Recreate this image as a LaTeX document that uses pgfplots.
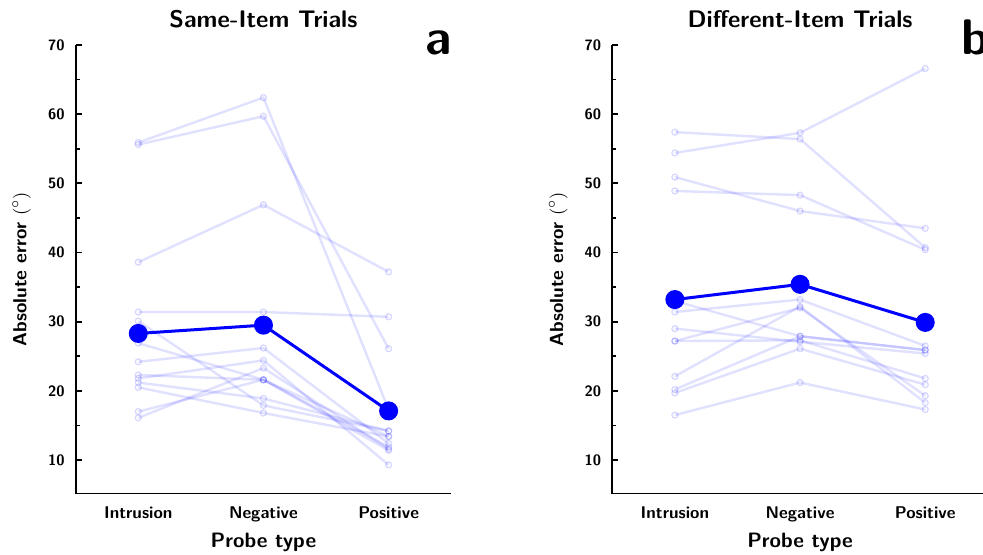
\documentclass[border=0pt]{standalone}
\usepackage{pgfplots}
\pgfplotsset{compat=1.18}

\pgfplotsset{
  panel/.style={
    scale only axis, width=187.75pt, height=224.25pt,
    xmin=-0.5, xmax=2.5, ymin=5.16, ymax=70,
    axis x line*=bottom, axis y line*=left,
    axis line style={line width=0.9pt, black},
    xtick={0,1,2}, xticklabels={Intrusion,Negative,Positive},
    ytick={10,20,...,70}, minor y tick num=1,
    tick align=inside,
    major tick length=3pt, minor tick length=2pt,
    tick style={black, line width=0.9pt},
    xtick style={draw=none},
    /pgf/number format/assume math mode=true,
    yticklabel style={font=\fontsize{7.5}{8}\selectfont\sffamily\bfseries, xshift=-2pt},
    xticklabel style={font=\fontsize{8.5}{10}\selectfont\sffamily\bfseries, yshift=-3pt},
    xlabel={Probe type},
    xlabel style={font=\fontsize{10.4}{12}\selectfont\sffamily\bfseries, at={(axis description cs:0.5,0)}, anchor=north, yshift=-16pt},
    ylabel={Absolute error $(^\circ)$},
    ylabel style={font=\fontsize{9.5}{11}\selectfont\sffamily\bfseries, at={(axis description cs:-0.144,0.5)}, anchor=center},
    title style={font=\fontsize{12}{14}\selectfont\sffamily\bfseries, at={(axis description cs:0.5,1)}, anchor=south, yshift=-1pt},
    clip=false,
  },
  subj/.style={blue, draw opacity=0.12, line width=1.2pt, mark=o, mark size=1.5pt,
    mark options={draw opacity=0.16, line width=0.6pt}},
  avg/.style={blue, line width=1.5pt, mark=*, mark size=4pt},
}

\begin{document}
\begin{tikzpicture}
% Same-item trials
\begin{axis}[panel, title={Same-Item Trials}]
\addplot[subj] coordinates {(0,55.9) (1,62.4) (2,17.3)};
\addplot[subj] coordinates {(0,55.6) (1,59.7) (2,26.1)};
\addplot[subj] coordinates {(0,38.6) (1,46.9) (2,37.2)};
\addplot[subj] coordinates {(0,31.4) (1,31.4) (2,30.7)};
\addplot[subj] coordinates {(0,30.1) (1,17.9) (2,14.2)};
\addplot[subj] coordinates {(0,26.9) (1,21.6) (2,13.4)};
\addplot[subj] coordinates {(0,24.2) (1,26.2) (2,12.4)};
\addplot[subj] coordinates {(0,22.3) (1,21.6) (2,11.9)};
\addplot[subj] coordinates {(0,21.8) (1,24.4) (2,9.3)};
\addplot[subj] coordinates {(0,21.2) (1,18.9) (2,14.2)};
\addplot[subj] coordinates {(0,20.5) (1,16.8) (2,13.4)};
\addplot[subj] coordinates {(0,17.0) (1,21.6) (2,11.4)};
\addplot[subj] coordinates {(0,16.1) (1,23.3) (2,11.6)};
\addplot[avg] coordinates {(0,28.3) (1,29.5) (2,17.1)};
\node[anchor=base west, inner sep=0, font=\fontsize{25}{28}\selectfont\sffamily\bfseries]
  at (rel axis cs:0.93,1) [yshift=-5pt] {a};
\end{axis}
% Different-item trials
\begin{axis}[panel, at={(268.3pt,0)}, title={Different-Item Trials}]
\addplot[subj] coordinates {(0,57.4) (1,56.4) (2,40.7)};
\addplot[subj] coordinates {(0,54.4) (1,57.3) (2,66.6)};
\addplot[subj] coordinates {(0,50.9) (1,46.0) (2,43.5)};
\addplot[subj] coordinates {(0,48.9) (1,48.3) (2,40.4)};
\addplot[subj] coordinates {(0,31.4) (1,33.2) (2,26.5)};
\addplot[subj] coordinates {(0,33.0) (1,27.9) (2,25.9)};
\addplot[subj] coordinates {(0,29.0) (1,27.1) (2,25.4)};
\addplot[subj] coordinates {(0,27.2) (1,32.0) (2,19.3)};
\addplot[subj] coordinates {(0,27.2) (1,27.3) (2,21.8)};
\addplot[subj] coordinates {(0,22.1) (1,32.2) (2,18.3)};
\addplot[subj] coordinates {(0,20.2) (1,27.9) (2,25.9)};
\addplot[subj] coordinates {(0,19.7) (1,26.1) (2,20.9)};
\addplot[subj] coordinates {(0,16.5) (1,21.2) (2,17.3)};
\addplot[avg] coordinates {(0,33.2) (1,35.4) (2,29.9)};
\node[anchor=base west, inner sep=0, font=\fontsize{25}{28}\selectfont\sffamily\bfseries]
  at (rel axis cs:0.93,1) [yshift=-5pt] {b};
\end{axis}
\pgfresetboundingbox
\path[use as bounding box] (-37.85pt,-30.25pt) rectangle (453.65pt,246.75pt);
\end{tikzpicture}
\end{document}
